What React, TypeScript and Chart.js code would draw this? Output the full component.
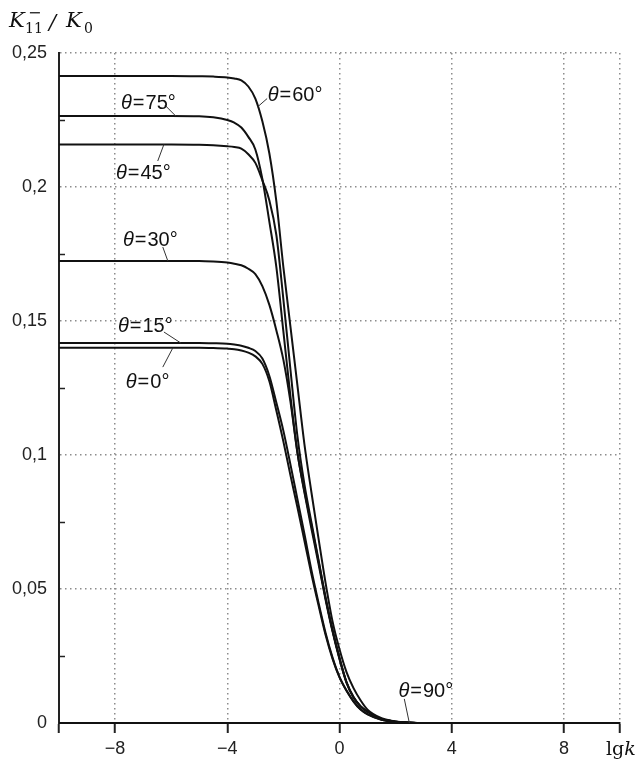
import React, { useEffect, useRef } from 'react';
import { Chart, registerables } from 'chart.js';

Chart.register(...registerables);

// lg k values (x axis)
const lgk = [-10, -8, -6, -5, -4.5, -4, -3.75, -3.5, -3.25, -3, -2.75, -2.5, -2.25, -2, -1.75, -1.5, -1.25, -1, -0.75, -0.5, -0.25, 0, 0.25, 0.5, 0.75, 1, 1.5, 2, 2.5, 3, 4, 6, 8, 10];

// K11- / K0 for each theta
const theta0 = [0.1400, 0.1400, 0.1400, 0.1400, 0.1399, 0.1397, 0.1395, 0.1390, 0.1382, 0.1368, 0.1340, 0.1275, 0.1165, 0.1050, 0.0925, 0.0805, 0.0680, 0.0555, 0.0440, 0.0330, 0.0240, 0.0170, 0.0120, 0.0080, 0.0050, 0.0032, 0.0012, 0.0004, 0.0001, 0, 0, 0, 0, 0];
const theta15 = [0.1418, 0.1418, 0.1418, 0.1418, 0.1417, 0.1415, 0.1412, 0.1408, 0.1400, 0.1388, 0.1360, 0.1295, 0.1195, 0.1090, 0.0965, 0.0835, 0.0705, 0.0570, 0.0450, 0.0338, 0.0245, 0.0172, 0.0121, 0.0081, 0.0051, 0.0033, 0.0012, 0.0004, 0.0001, 0, 0, 0, 0, 0];
const theta30 = [0.1724, 0.1724, 0.1724, 0.1724, 0.1722, 0.1718, 0.1714, 0.1708, 0.1695, 0.1675, 0.1630, 0.1560, 0.1465, 0.1355, 0.1200, 0.1008, 0.0860, 0.0725, 0.0595, 0.0462, 0.0342, 0.0238, 0.0150, 0.0095, 0.0062, 0.0042, 0.0015, 0.0005, 0.0001, 0, 0, 0, 0, 0];
const theta45 = [0.2159, 0.2159, 0.2159, 0.2158, 0.2156, 0.2152, 0.2149, 0.2143, 0.2122, 0.2090, 0.2025, 0.1950, 0.1820, 0.1580, 0.1320, 0.1070, 0.0890, 0.0748, 0.0610, 0.0470, 0.0348, 0.0243, 0.0153, 0.0097, 0.0063, 0.0043, 0.0015, 0.0005, 0.0001, 0, 0, 0, 0, 0];
const theta60 = [0.2414, 0.2414, 0.2414, 0.2413, 0.2412, 0.2409, 0.2405, 0.2398, 0.2375, 0.2330, 0.2245, 0.2125, 0.1945, 0.1700, 0.1480, 0.1260, 0.1040, 0.0860, 0.0690, 0.0525, 0.0380, 0.0275, 0.0190, 0.0130, 0.0085, 0.0050, 0.0018, 0.0006, 0.0002, 0, 0, 0, 0, 0];
const theta75 = [0.2265, 0.2265, 0.2265, 0.2264, 0.2260, 0.2250, 0.2240, 0.2222, 0.2187, 0.2140, 0.2030, 0.1870, 0.1700, 0.1460, 0.1220, 0.1010, 0.0865, 0.0738, 0.0605, 0.0468, 0.0346, 0.0242, 0.0152, 0.0096, 0.0062, 0.0042, 0.0015, 0.0005, 0.0001, 0, 0, 0, 0, 0];
const theta90 = [0, 0, 0, 0, 0, 0, 0, 0, 0, 0, 0, 0, 0, 0, 0, 0, 0, 0, 0, 0, 0, 0, 0, 0, 0, 0, 0, 0, 0, 0, 0, 0, 0, 0];

const seriesNames = ['0°', '15°', '30°', '45°', '60°', '75°', '90°'];
const seriesValues = [theta0, theta15, theta30, theta45, theta60, theta75, theta90];

// axis ticks
const xTicks = [-10, -8, -4, 0, 4, 8, 10];
const xTickLabels = ['', '−8', '−4', '0', '4', '8', ''];
const yTicks = [0, 0.05, 0.1, 0.15, 0.2, 0.25];
const yTickLabels = ['0', '0,05', '0,1', '0,15', '0,2', '0,25'];
const yMinorTicks = [0.025, 0.075, 0.125, 0.175, 0.225];

// curve label annotations (data coordinates): text anchor and leader line
const curveLabels = [
  { name: '60°', tx: -2.56, ty: 0.2343, ax: -2.92, ay: 0.2299, bx: -2.58, by: 0.2330 },
  { name: '75°', tx: -7.79, ty: 0.2313, ax: -6.23, ay: 0.2306, bx: -5.84, by: 0.2265 },
  { name: '45°', tx: -7.97, ty: 0.2052, ax: -6.48, ay: 0.2097, bx: -6.26, by: 0.2159 },
  { name: '30°', tx: -7.72, ty: 0.1802, ax: -6.30, ay: 0.1776, bx: -6.12, by: 0.1724 },
  { name: '15°', tx: -7.90, ty: 0.1478, ax: -6.26, ay: 0.1459, bx: -5.66, by: 0.1418 },
  { name: '0°', tx: -7.62, ty: 0.1272, ax: -6.30, ay: 0.1328, bx: -5.94, by: 0.1400 },
  { name: '90°', tx: 2.10, ty: 0.0116, ax: 2.31, ay: 0.0090, bx: 2.49, by: 0 },
];

const SANS = '"Liberation Sans", Arial, sans-serif';
const SERIF = '"DejaVu Serif", "Liberation Serif", serif';

const decor = {
  id: 'decor',
  afterDraw(chart: any) {
    const { ctx, chartArea } = chart;
    const xs = chart.scales.x;
    const ys = chart.scales.y;
    ctx.save();

    // minor ticks on y axis
    ctx.strokeStyle = '#222';
    ctx.lineWidth = 1.5;
    for (const v of yMinorTicks) {
      const py = Math.round(ys.getPixelForValue(v)) + 0.5;
      ctx.beginPath();
      ctx.moveTo(chartArea.left, py);
      ctx.lineTo(chartArea.left + 6, py);
      ctx.stroke();
    }

    // curve labels
    for (const L of curveLabels) {
      ctx.strokeStyle = '#333';
      ctx.lineWidth = 1;
      ctx.beginPath();
      ctx.moveTo(xs.getPixelForValue(L.ax), ys.getPixelForValue(L.ay));
      ctx.lineTo(xs.getPixelForValue(L.bx), ys.getPixelForValue(L.by));
      ctx.stroke();

      let px = xs.getPixelForValue(L.tx);
      const py = ys.getPixelForValue(L.ty);
      ctx.fillStyle = '#111';
      ctx.textBaseline = 'middle';
      ctx.textAlign = 'left';
      ctx.font = 'italic 20px ' + SANS;
      ctx.fillText('θ', px, py);
      px += ctx.measureText('θ').width + 1;
      ctx.font = '20px ' + SANS;
      ctx.fillText('=', px, py);
      px += ctx.measureText('=').width + 1;
      ctx.fillText(L.name, px, py);
    }

    // y axis title: K11^- / K0
    ctx.fillStyle = '#111';
    ctx.textBaseline = 'alphabetic';
    ctx.textAlign = 'left';
    ctx.font = 'italic 21px ' + SERIF;
    ctx.fillText('K', 9, 27);
    ctx.font = '14px ' + SERIF;
    ctx.fillText('11', 25, 33);
    ctx.font = '16px ' + SERIF;
    ctx.fillText('−', 28, 18);
    ctx.font = 'italic 21px ' + SERIF;
    ctx.fillText('/', 49, 29);
    ctx.fillText('K', 66, 27);
    ctx.font = '14px ' + SERIF;
    ctx.fillText('0', 84, 33);

    // x axis title: lgk
    ctx.font = '19px ' + SERIF;
    ctx.fillText('lg', 606, 755);
    const w = ctx.measureText('lg').width;
    ctx.font = 'italic 19px ' + SERIF;
    ctx.fillText('k', 606 + w, 755);

    ctx.restore();
  },
};

export default function App() {
  const ref = useRef<HTMLCanvasElement>(null);

  useEffect(() => {
    document.body.style.margin = '0';
    const canvas = ref.current!;
    const chart = new Chart(canvas, {
      type: 'line',
      data: {
        datasets: seriesValues.map((vals, k) => ({
          label: seriesNames[k],
          data: lgk.map((x, i) => ({ x, y: vals[i] })),
          borderColor: '#111',
          borderWidth: 2,
          pointRadius: 0,
          fill: false,
          cubicInterpolationMode: 'monotone',
          clip: 6,
        })),
      },
      options: {
        responsive: false,
        animation: false,
        devicePixelRatio: 1,
        layout: { padding: { top: 53, right: 17, left: 0, bottom: 0 } },
        plugins: { legend: { display: false }, tooltip: { enabled: false } },
        scales: {
          x: {
            type: 'linear',
            min: -10,
            max: 10,
            afterBuildTicks: (s: any) => {
              s.ticks = xTicks.map((v) => ({ value: v }));
            },
            afterFit: (s: any) => {
              s.height = 40;
            },
            ticks: {
              callback: (_v: any, i: number) => xTickLabels[i],
              font: { family: SANS, size: 18 },
              color: '#222',
              padding: 5,
              maxRotation: 0,
              autoSkip: false,
            },
            grid: {
              color: '#8c8c8c',
              lineWidth: 1.5,
              tickColor: '#222',
              tickWidth: 2,
              tickLength: 10,
              tickBorderDash: [],
            },
            border: { color: '#222', width: 2, dash: [1.5, 3.5] },
          },
          y: {
            type: 'linear',
            min: 0,
            max: 0.25,
            afterBuildTicks: (s: any) => {
              s.ticks = yTicks.map((v) => ({ value: v }));
            },
            afterFit: (s: any) => {
              s.width = 59;
            },
            ticks: {
              callback: (_v: any, i: number) => yTickLabels[i],
              font: { family: SANS, size: 18 },
              color: '#222',
              padding: 12,
            },
            grid: {
              color: '#8c8c8c',
              lineWidth: 1.5,
              drawTicks: false,
            },
            border: { color: '#222', width: 2, dash: [1.5, 3.5] },
          },
        },
      },
      plugins: [decor],
    } as any);
    return () => chart.destroy();
  }, []);

  return (
    <div style={{ width: 637, height: 763 }}>
      <canvas ref={ref} width={637} height={763} style={{ display: 'block' }} />
    </div>
  );
}
